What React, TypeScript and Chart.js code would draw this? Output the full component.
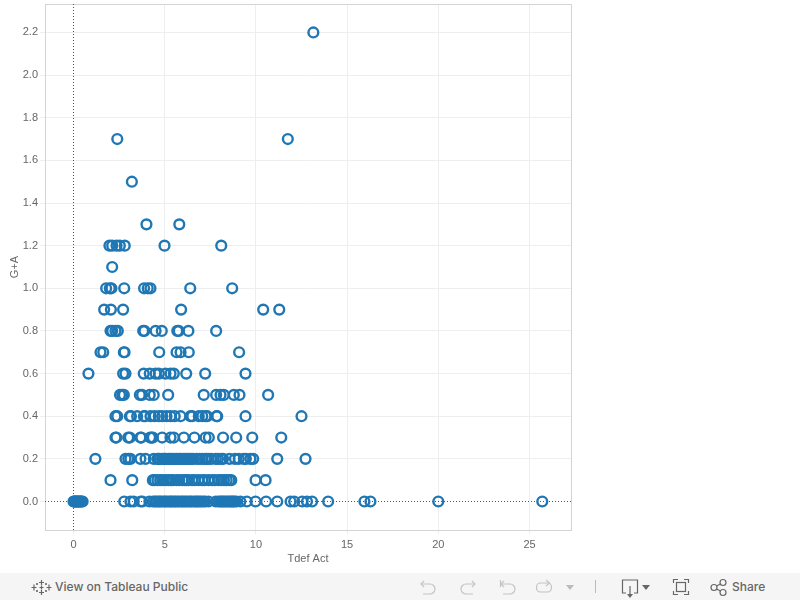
import React, { useEffect, useRef } from "react";
import { Chart, registerables } from "chart.js";

Chart.register(...registerables);

const xTitle = "Tdef Act";
const yTitle = "G+A";
const xMin = -1.5625;
const xMax = 27.275;
const yMin = -0.1337;
const yMax = 2.3335;

const row220 = [13.15];
const row170 = [2.4, 11.75];
const row150 = [3.2];
const row130 = [4.0, 5.8];
const row120 = [1.97, 2.12, 2.36, 2.54, 2.81, 4.99, 8.1];
const row110 = [2.12];
const row100 = [1.79, 1.99, 2.08, 2.78, 3.87, 4.07, 4.22, 6.4, 8.7];
const row090 = [1.68, 2.05, 2.72, 5.9, 10.4, 11.28];
const row080 = [2.03, 2.12, 2.3, 2.43, 3.82, 3.89, 4.5, 4.84, 5.69, 5.77, 6.3, 7.82];
const row070 = [1.48, 1.63, 2.76, 2.8, 4.7, 5.65, 5.87, 6.32, 9.08];
const row060 = [0.82, 2.72, 2.85, 3.85, 4.18, 4.5, 4.68, 5.04, 5.32, 5.5, 6.18, 7.22, 9.43];
const row050 = [2.55, 2.67, 2.76, 3.64, 3.76, 4.18, 4.4, 5.19, 7.14, 7.82, 8.06, 8.24, 8.79, 9.1, 10.67];
const row040 = [2.3, 2.4, 3.09, 3.15, 3.49, 3.86, 3.92, 4.22, 4.45, 4.68, 4.86, 5.1, 5.32, 5.55, 5.87, 6.41, 6.51, 6.87, 7.06, 7.24, 7.33, 7.84, 7.88, 9.43, 12.5];
const row030 = [2.3, 2.35, 3.0, 3.09, 3.67, 3.72, 4.2, 4.28, 4.35, 4.86, 5.32, 5.5, 6.05, 6.63, 7.24, 7.42, 8.2, 8.92, 9.8, 11.39];
const row020 = [1.2, 2.85, 3.0, 3.12, 3.67, 3.95, 4.4, 4.6, 4.66, 4.72, 4.85, 4.95, 5.02, 5.08, 5.22, 5.3, 5.4, 5.5, 5.62, 5.72, 5.82, 5.9, 6.05, 6.15, 6.25, 6.35, 6.45, 6.55, 6.75, 6.9, 7.05, 7.2, 7.3, 7.4, 7.55, 7.8, 7.92, 8.1, 8.2, 8.55, 8.85, 9.06, 9.34, 9.45, 9.7, 9.85, 11.17, 12.72];
const row010 = [2.03, 3.22, 4.35, 4.45, 4.6, 4.75, 4.88, 5.05, 5.2, 5.35, 5.45, 5.65, 5.8, 5.98, 6.1, 6.2, 6.3, 6.5, 6.65, 6.85, 7.05, 7.2, 7.4, 7.6, 7.75, 7.95, 8.1, 8.25, 8.4, 8.55, 8.65, 9.98, 10.53];
const row000 = [0, 0.03, 0.06, 0.1, 0.14, 0.18, 0.22, 0.27, 0.31, 0.36, 0.4, 0.45, 0.5, 2.78, 3.12, 3.3, 3.68, 3.78, 4.16, 4.36, 4.47, 4.55, 4.66, 4.74, 4.83, 4.95, 5.03, 5.12, 5.24, 5.33, 5.41, 5.52, 5.6, 5.71, 5.8, 5.92, 6.0, 6.11, 6.2, 6.32, 6.41, 6.5, 6.63, 6.72, 6.8, 6.91, 7.0, 7.12, 7.22, 7.4, 7.8, 7.95, 8.05, 8.13, 8.22, 8.3, 8.4, 8.5, 8.58, 8.67, 8.75, 8.82, 8.93, 9.15, 9.5, 9.98, 10.56, 11.17, 11.9, 12.1, 12.54, 12.8, 13.08, 13.96, 15.95, 16.28, 20.0, 25.7];

const rowValues: [number, number[]][] = [
  [2.2, row220], [1.7, row170], [1.5, row150], [1.3, row130], [1.2, row120], [1.1, row110],
  [1.0, row100], [0.9, row090], [0.8, row080], [0.7, row070], [0.6, row060], [0.5, row050],
  [0.4, row040], [0.3, row030], [0.2, row020], [0.1, row010], [0.0, row000],
];

const points = rowValues.flatMap(([y, xs]) => xs.map((x) => ({ x, y })));

const AXIS = "#d4d4d4";
const GRID = "#eeeeee";
const TEXT = "#666666";
const FONT = "'Liberation Sans', Arial, sans-serif";

const framePlugin = {
  id: "frame",
  beforeDatasetsDraw(chart: any) {
    const { ctx, chartArea: a } = chart;
    ctx.save();
    ctx.strokeStyle = AXIS;
    ctx.lineWidth = 1;
    ctx.strokeRect(a.left + 0.5, a.top + 0.5, a.right - a.left, a.bottom - a.top);
    ctx.restore();
  },
};

const Undo = ({ x, flip, bar }: { x: number; flip?: boolean; bar?: boolean }) => (
  <g transform={`translate(${x} 579)${flip ? " translate(16 0) scale(-1 1)" : ""}`} fill="none" stroke="#c4c4c4" strokeWidth="1.2">
    <path d="M1 5 H10 a5 5 0 0 1 0 10 H3" />
    <path d="M4 2 L1 5 L4 8" />
    {bar && <path d="M0.5 1 V8" />}
  </g>
);

export default function App() {
  const ref = useRef<HTMLCanvasElement>(null);
  useEffect(() => {
    document.body.style.margin = "0";
    const chart = new Chart(ref.current!, {
      type: "scatter",
      data: {
        datasets: [
          {
            data: points,
            pointRadius: 4.9,
            pointBorderWidth: 2.4,
            pointBorderColor: "#1f77b4",
            pointBackgroundColor: "rgba(0,0,0,0)",
            showLine: false,
          },
          {
            data: [{ x: xMin, y: 0 }, { x: xMax, y: 0 }],
            showLine: true,
            pointRadius: 0,
            borderColor: "#555555",
            borderWidth: 1,
            borderDash: [1, 2],
          },
          {
            data: [{ x: 0, y: yMin }, { x: 0, y: yMax }],
            showLine: true,
            pointRadius: 0,
            borderColor: "#555555",
            borderWidth: 1,
            borderDash: [1, 2],
          },
        ],
      },
      options: {
        responsive: false,
        animation: false,
        layout: { autoPadding: false, padding: { left: 8, right: 229, top: 4, bottom: 30 } },
        plugins: { legend: { display: false }, tooltip: { enabled: false } },
        scales: {
          x: {
            type: "linear",
            min: xMin,
            max: xMax,
            afterFit(s: any) { s.height = 40; s.paddingLeft = 0; s.paddingRight = 0; },
            grid: {
              color: (c: any) => (c.tick && c.tick.value === 0 ? "rgba(0,0,0,0)" : GRID),
              tickColor: GRID,
              tickLength: 4,
            },
            border: { color: AXIS },
            ticks: {
              stepSize: 5,
              includeBounds: false,
              autoSkip: false,
              maxRotation: 0,
              color: TEXT,
              padding: 4,
              font: { family: FONT, size: 11 },
            },
            title: { display: true, text: xTitle, color: TEXT, padding: { top: 0, bottom: 4 }, font: { family: FONT, size: 11 } },
          },
          y: {
            type: "linear",
            min: yMin,
            max: yMax,
            afterFit(s: any) { s.width = 37; s.paddingTop = 0; s.paddingBottom = 0; },
            grid: {
              color: (c: any) => (c.tick && c.tick.value === 0 ? "rgba(0,0,0,0)" : GRID),
              tickColor: GRID,
              tickLength: 5,
            },
            border: { color: AXIS },
            ticks: {
              stepSize: 0.2,
              includeBounds: false,
              autoSkip: false,
              color: TEXT,
              padding: 2,
              font: { family: FONT, size: 11 },
              callback: (v: any) => Number(v).toFixed(1),
            },
            title: { display: true, text: yTitle, color: TEXT, padding: { top: 0, bottom: 0 }, font: { family: FONT, size: 11 } },
          },
        },
      },
      plugins: [framePlugin],
    } as any);
    return () => chart.destroy();
  }, []);

  return (
    <div style={{ position: "relative", width: 800, height: 600, overflow: "hidden", background: "#fff" }}>
      <canvas ref={ref} width={800} height={600} style={{ display: "block" }} />
      <div style={{ position: "absolute", left: 0, top: 573, width: 800, height: 27, background: "#f5f5f5" }} />
      <svg width={800} height={27} viewBox="0 573 800 27" style={{ position: "absolute", left: 0, top: 573 }}>
        <g stroke="#666" strokeWidth="1.2" fill="none">
          <path d="M41.5 580 V585 M39 582.5 H44 M41.5 590 V595 M39 592.5 H44 M34 584.5 V590.5 M31.5 587.5 H36.5 M49 584.5 V590.5 M46.5 587.5 H51.5" />
          <path d="M37 583 V585 M36 584 H38 M46 583 V585 M45 584 H47 M37 590 V592 M36 591 H38 M46 590 V592 M45 591 H47 M41.5 585.5 V589.5 M39.5 587.5 H43.5" />
        </g>
        <Undo x={420} />
        <Undo x={460} flip />
        <Undo x={500} bar />
        <g fill="none" stroke="#c4c4c4" strokeWidth="1.2">
          <rect x="536.5" y="583" width="15" height="9" rx="4" />
          <path d="M546 580 L549.5 583 L546 586" />
        </g>
        <path d="M566 585 H574 L570 590 Z" fill="#bbbbbb" />
        <path d="M595.5 580 V593" stroke="#bbbbbb" />
        <g fill="none" stroke="#666" strokeWidth="1.2">
          <path d="M626 593 H622.5 V580 H637.5 V593 H634" />
          <path d="M630 586 V596" />
        </g>
        <path d="M627 594 H633 L630 598 Z" fill="#666" />
        <path d="M642 585 H650 L646 590 Z" fill="#666" />
        <g fill="none" stroke="#666" strokeWidth="1.2">
          <path d="M673.5 583 V579.5 H678 M684 579.5 H688.5 V583 M688.5 591 V594.5 H684 M678 594.5 H673.5 V591" />
          <rect x="676.5" y="582.5" width="9" height="9" />
          <circle cx="714" cy="587.5" r="3" />
          <circle cx="723" cy="582.5" r="3" />
          <circle cx="723" cy="592.5" r="3" />
          <path d="M716.5 586 L720.5 584 M716.5 589 L720.5 591" />
        </g>
      </svg>
      <div style={{ position: "absolute", left: 55, top: 579, font: "500 12px Inter, sans-serif", color: "#666", whiteSpace: "nowrap" }}>View on Tableau Public</div>
      <div style={{ position: "absolute", left: 732, top: 579, font: "500 12px Inter, sans-serif", color: "#666", whiteSpace: "nowrap" }}>Share</div>
    </div>
  );
}
